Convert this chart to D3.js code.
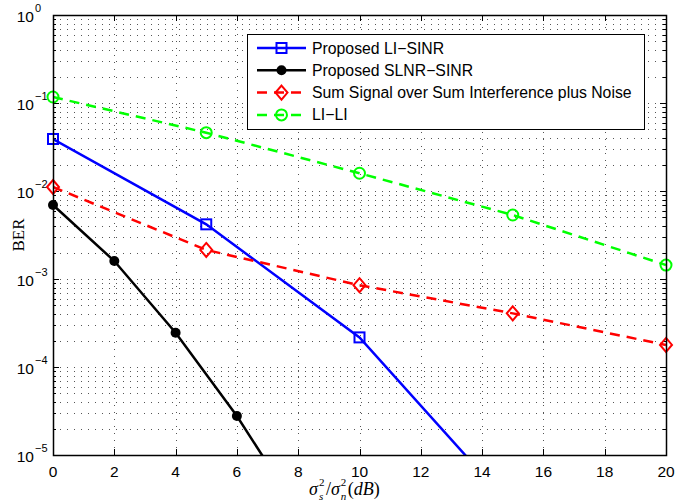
<!DOCTYPE html>
<html>
<head>
<meta charset="utf-8">
<script src="https://cdn.jsdelivr.net/npm/d3@7"></script>
<style>
  body { margin: 0; background: #fff; }
  svg { display: block; }
</style>
</head>
<body>
<svg id="chart" width="675" height="503"></svg>
<script>
// dati
const snr = [0, 5, 10, 15];
const snrBlack = [0, 2, 4, 6, 8];
const snrFull = [0, 5, 10, 15, 20];
const berLiSinr = [0.039, 0.00418, 2.17e-4, 2.5e-6];
const berSlnrSinr = [0.00693, 0.0016, 2.45e-4, 2.77e-5, 2.3e-6];
const berSumSignal = [0.0111, 0.00214, 8.5e-4, 4.07e-4, 1.78e-4];
const berLiLi = [0.117, 0.046, 0.0159, 0.00534, 0.00144];
const xTicks = [0, 2, 4, 6, 8, 10, 12, 14, 16, 18, 20];
const yExps = [0, -1, -2, -3, -4, -5];
const legendNames = ['Proposed LI\u2212SINR', 'Proposed SLNR\u2212SINR',
  'Sum Signal over Sum Interference plus Noise', 'LI\u2212LI'];

const pLeft = 53, pRight = 666, pTop = 15, pBottom = 455;
const svg = d3.select('#chart');
svg.append('rect').attr('width', 675).attr('height', 503).attr('fill', '#fff');

const x = d3.scaleLinear().domain([0, 20]).range([pLeft, pRight]);
const y = d3.scaleLog().domain([1e-5, 1]).range([pBottom, pTop]);

// griglia punteggiata
const grid = svg.append('g').attr('stroke', '#555').attr('stroke-width', 1)
  .attr('stroke-dasharray', '1,6').attr('shape-rendering', 'crispEdges');
const minorVals = [];
for (let k = -5; k < 0; k++) {
  for (let m = 1; m <= 9; m++) minorVals.push(m * Math.pow(10, k));
}
minorVals.filter(v => v > 1e-5).forEach(v => {
  grid.append('line').attr('x1', pLeft).attr('x2', pRight)
    .attr('y1', Math.round(y(v)) + 0.5).attr('y2', Math.round(y(v)) + 0.5);
});
xTicks.slice(1, -1).forEach(t => {
  grid.append('line').attr('y1', pBottom).attr('y2', pTop)
    .attr('x1', Math.round(x(t)) + 0.5).attr('x2', Math.round(x(t)) + 0.5);
});

// tacche interne
const ticks = svg.append('g').attr('stroke', '#000').attr('stroke-width', 1)
  .attr('shape-rendering', 'crispEdges');
xTicks.forEach(t => {
  const px = Math.round(x(t)) + 0.5;
  ticks.append('line').attr('x1', px).attr('x2', px).attr('y1', pBottom).attr('y2', pBottom - 6);
  ticks.append('line').attr('x1', px).attr('x2', px).attr('y1', pTop).attr('y2', pTop + 6);
});
minorVals.concat([1]).forEach(v => {
  const lv = Math.log10(v);
  const len = Math.abs(lv - Math.round(lv)) < 1e-9 ? 6 : 3;
  const py = Math.round(y(v)) + 0.5;
  ticks.append('line').attr('x1', pLeft).attr('x2', pLeft + len).attr('y1', py).attr('y2', py);
  ticks.append('line').attr('x1', pRight).attr('x2', pRight - len).attr('y1', py).attr('y2', py);
});

// etichette assi
const font = '"Liberation Sans", Arial, sans-serif';
const serif = '"Liberation Serif", "Times New Roman", serif';
xTicks.forEach(t => {
  svg.append('text').attr('x', x(t)).attr('y', 477).attr('text-anchor', 'middle')
    .attr('font-family', font).attr('font-size', 15.5).text(t);
});
yExps.forEach(e => {
  svg.append('text').attr('x', 34).attr('y', y(Math.pow(10, e)) + 7)
    .attr('font-family', font).attr('font-size', 15.5).attr('text-anchor', 'end').text('10');
  svg.append('text').attr('x', 35).attr('y', y(Math.pow(10, e)) - 3)
    .attr('font-family', font).attr('font-size', 11)
    .text(e === 0 ? '0' : '\u2212' + (-e));
});

svg.append('text').attr('transform', 'translate(24,235) rotate(-90)')
  .attr('text-anchor', 'middle').attr('font-family', serif)
  .attr('font-size', 17).text('BER');

// titolo asse x: pezzi messi uno dopo l'altro
const xl = svg.append('g');
let cx = 309;
const base = 495;
function piece(txt, opts) {
  const t = xl.append('text').attr('x', cx).attr('y', base + (opts.dy || 0))
    .attr('font-family', serif).attr('font-size', opts.size || 18)
    .attr('font-style', opts.italic ? 'italic' : 'normal').text(txt);
  return t.node().getComputedTextLength();
}
function sigma(sub) {
  cx += piece('\u03c3', { italic: true }) + 1;
  const w1 = piece('2', { size: 11, dy: -9 });
  const w2 = piece(sub, { size: 11, dy: 5, italic: true });
  cx += Math.max(w1, w2) + 1.5;
}
sigma('s');
cx += piece('/', {});
sigma('n');
cx += piece('(', {});
cx += piece('dB', { italic: true });
cx += piece(')', {});

// serie
const series = [
  { xs: snr, ys: berLiSinr, color: '#0000ff', dash: null, marker: 'square' },
  { xs: snrBlack, ys: berSlnrSinr, color: '#000000', dash: null, marker: 'dot' },
  { xs: snrFull, ys: berSumSignal, color: '#ff0000', dash: '10,7', marker: 'diamond' },
  { xs: snrFull, ys: berLiLi, color: '#00ff00', dash: '10,7', marker: 'circle' }
];

svg.append('clipPath').attr('id', 'clip').append('rect')
  .attr('x', pLeft).attr('y', pTop).attr('width', pRight - pLeft).attr('height', pBottom - pTop);

function drawMarker(g, type, mx, my, color) {
  if (type === 'square') {
    g.append('rect').attr('x', mx - 5).attr('y', my - 5).attr('width', 10).attr('height', 10)
      .attr('fill', 'none').attr('stroke', color).attr('stroke-width', 2);
  } else if (type === 'dot') {
    g.append('circle').attr('cx', mx).attr('cy', my).attr('r', 5).attr('fill', color);
  } else if (type === 'diamond') {
    g.append('path').attr('d', `M${mx},${my - 7}L${mx + 6},${my}L${mx},${my + 7}L${mx - 6},${my}Z`)
      .attr('fill', 'none').attr('stroke', color).attr('stroke-width', 2);
  } else {
    g.append('circle').attr('cx', mx).attr('cy', my).attr('r', 5.5)
      .attr('fill', 'none').attr('stroke', color).attr('stroke-width', 2);
  }
}

const line = d3.line();
const plot = svg.append('g').attr('clip-path', 'url(#clip)');
series.forEach(s => {
  const pts = s.xs.map((v, i) => [x(v), y(s.ys[i])]);
  plot.append('path').attr('d', line(pts)).attr('fill', 'none')
    .attr('stroke', s.color).attr('stroke-width', 2.5)
    .attr('stroke-dasharray', s.dash);
});
const markers = svg.append('g');
series.forEach(s => {
  s.xs.forEach((v, i) => {
    if (s.ys[i] >= 1e-5) drawMarker(markers, s.marker, x(v), y(s.ys[i]), s.color);
  });
});

// cornice
svg.append('rect').attr('x', pLeft + 0.5).attr('y', pTop + 0.5)
  .attr('width', pRight - pLeft).attr('height', pBottom - pTop)
  .attr('fill', 'none').attr('stroke', '#000').attr('stroke-width', 1.5);

// legenda
const lg = svg.append('g');
lg.append('rect').attr('x', 247.5).attr('y', 34.5).attr('width', 397).attr('height', 95)
  .attr('fill', '#fff').attr('stroke', '#000').attr('stroke-width', 1);
legendNames.forEach((name, i) => {
  const s = series[i];
  const ly = 48 + i * 22.3;
  lg.append('line').attr('x1', 257).attr('x2', 306).attr('y1', ly).attr('y2', ly)
    .attr('stroke', s.color).attr('stroke-width', 2.5).attr('stroke-dasharray', s.dash);
  drawMarker(lg, s.marker, 281.5, ly, s.color);
  lg.append('text').attr('x', 312).attr('y', ly + 5.5).attr('font-family', font)
    .attr('font-size', 15.8).text(name);
});
</script>
</body>
</html>
